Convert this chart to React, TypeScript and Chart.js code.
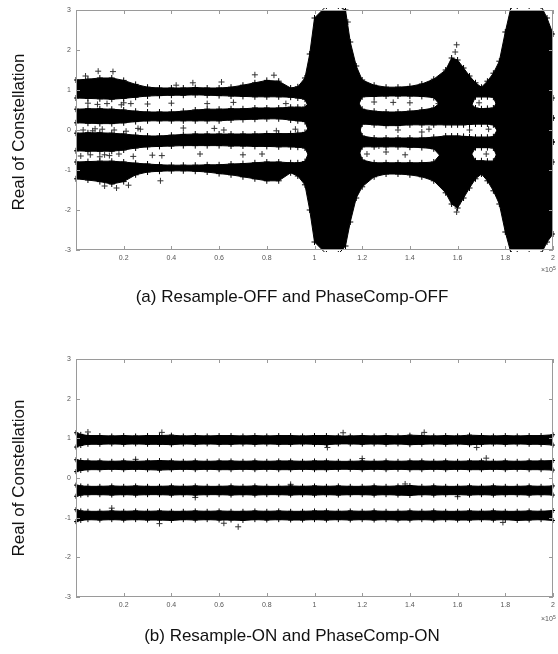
import React, { useEffect, useRef } from 'react';
import { Chart, registerables } from 'chart.js';

Chart.register(...registerables);
if (typeof document !== 'undefined') document.body.style.margin = '0';

// ---------- axes ----------
const X_TICKS = [0.2, 0.4, 0.6, 0.8, 1, 1.2, 1.4, 1.6, 1.8, 2];
const Y_TICKS = [-3, -2, -1, 0, 1, 2, 3];
const X_MIN = 0;
const X_MAX = 2;
const Y_MIN = -3;
const Y_MAX = 3;

// ---------- (a) Resample-OFF and PhaseComp-OFF : band envelopes (sample index x1e5) ----------
const A_X = [0, 0.05, 0.1, 0.15, 0.2, 0.25, 0.3, 0.35, 0.4, 0.45, 0.5, 0.55, 0.6, 0.65, 0.7, 0.75, 0.8, 0.85, 0.9, 0.93, 0.96, 0.98, 1.0, 1.05, 1.1, 1.13, 1.15, 1.175, 1.2, 1.25, 1.3, 1.35, 1.4, 1.45, 1.5, 1.55, 1.575, 1.6, 1.625, 1.65, 1.675, 1.7, 1.725, 1.75, 1.775, 1.8, 1.825, 1.85, 1.9, 1.95, 1.975, 2.0];
const A_B1_UP = [1.25, 1.27, 1.3, 1.3, 1.24, 1.14, 1.07, 1.05, 1.05, 1.05, 1.06, 1.05, 1.05, 1.07, 1.12, 1.18, 1.24, 1.22, 1.05, 1.08, 1.3, 1.9, 2.8, 3.1, 3.1, 3.0, 2.2, 1.6, 1.25, 1.12, 1.07, 1.07, 1.09, 1.15, 1.27, 1.5, 1.8, 1.75, 1.55, 1.35, 1.18, 1.07, 1.22, 1.42, 1.72, 2.45, 3.1, 3.1, 3.1, 3.1, 2.8, 2.4];
const A_B1_LO = [0.8, 0.79, 0.78, 0.77, 0.79, 0.82, 0.85, 0.86, 0.87, 0.87, 0.88, 0.87, 0.86, 0.85, 0.84, 0.83, 0.83, 0.83, 0.82, 0.8, 0.77, 0.5, 0.3, 0.3, 0.3, 0.3, 0.3, 0.5, 0.83, 0.84, 0.85, 0.85, 0.85, 0.84, 0.81, 0.45, 0.4, 0.4, 0.4, 0.5, 0.83, 0.83, 0.83, 0.82, 0.45, 0.3, 0.3, 0.3, 0.3, 0.3, 0.3, 0.3];
const A_B2_UP = [0.52, 0.53, 0.53, 0.52, 0.5, 0.47, 0.45, 0.45, 0.45, 0.47, 0.5, 0.52, 0.52, 0.53, 0.53, 0.55, 0.55, 0.55, 0.57, 0.57, 0.57, 0.7, 0.8, 0.8, 0.8, 0.8, 0.8, 0.8, 0.52, 0.47, 0.45, 0.45, 0.47, 0.5, 0.55, 0.8, 0.8, 0.8, 0.8, 0.7, 0.55, 0.53, 0.54, 0.55, 0.8, 0.8, 0.8, 0.8, 0.8, 0.8, 0.8, 0.8];
const A_B2_LO = [0.18, 0.17, 0.16, 0.16, 0.18, 0.21, 0.23, 0.23, 0.23, 0.23, 0.23, 0.23, 0.23, 0.25, 0.26, 0.27, 0.28, 0.28, 0.25, 0.23, 0.21, -0.1, -0.3, -0.3, -0.3, -0.3, -0.3, -0.3, 0.15, 0.13, 0.11, 0.11, 0.13, 0.13, 0.13, 0.13, 0.13, 0.13, 0.13, 0.14, 0.15, 0.15, 0.15, 0.13, -0.1, -0.3, -0.3, -0.3, -0.3, -0.3, -0.3, -0.3];
const A_B3_UP = [-0.08, -0.07, -0.07, -0.08, -0.1, -0.13, -0.15, -0.15, -0.13, -0.11, -0.1, -0.1, -0.1, -0.1, -0.1, -0.1, -0.09, -0.09, -0.09, -0.08, -0.06, 0.1, 0.3, 0.3, 0.3, 0.3, 0.3, 0.3, -0.15, -0.2, -0.2, -0.2, -0.2, -0.2, -0.18, -0.15, -0.15, -0.15, -0.16, -0.17, -0.18, -0.18, -0.18, -0.17, 0.1, 0.3, 0.3, 0.3, 0.3, 0.3, 0.3, 0.3];
const A_B3_LO = [-0.52, -0.53, -0.53, -0.53, -0.5, -0.45, -0.42, -0.41, -0.4, -0.39, -0.39, -0.39, -0.39, -0.4, -0.4, -0.41, -0.41, -0.42, -0.42, -0.43, -0.45, -0.7, -0.8, -0.8, -0.8, -0.8, -0.8, -0.8, -0.42, -0.42, -0.42, -0.42, -0.43, -0.44, -0.47, -0.8, -0.8, -0.8, -0.8, -0.7, -0.44, -0.44, -0.44, -0.45, -0.8, -0.8, -0.8, -0.8, -0.8, -0.8, -0.8, -0.8];
const A_B4_UP = [-0.8, -0.79, -0.78, -0.78, -0.8, -0.83, -0.85, -0.87, -0.88, -0.88, -0.88, -0.87, -0.87, -0.85, -0.84, -0.82, -0.8, -0.8, -0.82, -0.82, -0.79, -0.5, -0.3, -0.3, -0.3, -0.3, -0.3, -0.3, -0.75, -0.82, -0.82, -0.82, -0.82, -0.82, -0.8, -0.45, -0.4, -0.4, -0.4, -0.5, -0.77, -0.77, -0.78, -0.78, -0.45, -0.3, -0.3, -0.3, -0.3, -0.3, -0.3, -0.3];
const A_B4_LO = [-1.22, -1.25, -1.29, -1.35, -1.29, -1.12, -1.05, -1.03, -1.02, -1.02, -1.03, -1.05, -1.09, -1.12, -1.17, -1.22, -1.27, -1.27, -1.07, -1.15, -1.37, -2.0, -2.8, -3.1, -3.1, -2.9, -2.3, -1.7, -1.42, -1.17, -1.1, -1.1, -1.12, -1.17, -1.27, -1.57, -1.85, -1.95, -1.7, -1.45, -1.22, -1.1, -1.27, -1.52, -1.85, -2.55, -3.1, -3.1, -3.1, -3.1, -2.8, -2.6];
const A_OUT_X = [0.04, 0.093, 0.155, 0.12, 0.17, 0.22, 0.354, 0.42, 0.49, 0.61, 0.75, 0.83, 0.3, 0.55, 0.45, 0.62, 0.52, 0.7, 0.08, 0.2, 0.36, 0.66, 0.84, 0.12, 0.27, 1.14, 1.12, 1.25, 1.27, 1.3, 1.35, 1.4, 1.45, 1.22, 1.33, 1.48, 1.59, 1.596, 1.596, 1.6, 1.65, 1.72, 1.69,
  0.02, 0.06, 0.1, 0.14, 0.18, 0.24, 0.03, 0.07, 0.11, 0.16, 0.21, 0.26, 0.05, 0.09, 0.13, 0.19, 0.23, 0.32, 0.4, 0.58, 0.78, 0.88, 0.92, 1.38, 1.52, 1.73];
const A_OUT_Y = [1.35, 1.47, 1.46, -1.4, -1.45, -1.38, -1.27, 1.12, 1.18, 1.2, 1.38, 1.37, 0.65, 0.66, 0.05, 0.0, -0.6, -0.62, 0.03, 0.68, -0.64, 0.69, -0.02, -0.62, 0.02, 2.7, -2.9, 0.7, -0.4, -0.55, 0.0, 0.68, -0.05, -0.6, 0.69, 0.02, 1.95, 2.13, -2.05, -1.85, 0.0, -0.6, 0.68,
  -0.65, -0.62, -0.67, -0.64, -0.6, -0.66, 0.0, -0.02, 0.02, 0.0, -0.03, 0.04, 0.67, 0.64, 0.66, 0.63, 0.66, -0.63, 0.67, 0.04, -0.6, 0.66, 0.02, -0.62, 0.66, 0.02];

// ---------- (b) Resample-ON and PhaseComp-ON ----------
const B_X = [0, 0.02, 0.05, 0.1, 0.15, 0.2, 0.25, 0.3, 0.35, 0.4, 0.45, 0.5, 0.55, 0.6, 0.65, 0.7, 0.75, 0.8, 0.85, 0.9, 0.95, 1.0, 1.05, 1.1, 1.15, 1.2, 1.25, 1.3, 1.35, 1.4, 1.45, 1.5, 1.55, 1.6, 1.65, 1.7, 1.75, 1.8, 1.85, 1.9, 1.95, 2.0];
const B_B1_UP = [1.14, 1.1, 1.07, 1.07, 1.06, 1.07, 1.06, 1.07, 1.07, 1.08, 1.06, 1.07, 1.06, 1.07, 1.07, 1.06, 1.07, 1.06, 1.07, 1.07, 1.06, 1.07, 1.07, 1.06, 1.06, 1.07, 1.06, 1.07, 1.06, 1.08, 1.07, 1.06, 1.07, 1.06, 1.08, 1.07, 1.06, 1.07, 1.06, 1.07, 1.07, 1.09];
const B_B1_LO = [0.78, 0.82, 0.85, 0.85, 0.86, 0.85, 0.86, 0.85, 0.85, 0.84, 0.86, 0.85, 0.86, 0.85, 0.85, 0.86, 0.85, 0.86, 0.85, 0.85, 0.86, 0.85, 0.84, 0.86, 0.86, 0.85, 0.86, 0.85, 0.86, 0.84, 0.85, 0.86, 0.85, 0.86, 0.84, 0.85, 0.86, 0.85, 0.86, 0.85, 0.85, 0.83];
const B_B2_UP = [0.46, 0.44, 0.43, 0.43, 0.42, 0.43, 0.42, 0.43, 0.44, 0.43, 0.42, 0.43, 0.42, 0.43, 0.43, 0.42, 0.43, 0.42, 0.43, 0.43, 0.42, 0.43, 0.43, 0.42, 0.42, 0.43, 0.42, 0.43, 0.42, 0.43, 0.43, 0.42, 0.43, 0.42, 0.43, 0.43, 0.42, 0.43, 0.42, 0.43, 0.43, 0.44];
const B_B2_LO = [0.16, 0.19, 0.21, 0.21, 0.22, 0.21, 0.22, 0.21, 0.2, 0.21, 0.22, 0.21, 0.22, 0.21, 0.21, 0.22, 0.21, 0.22, 0.21, 0.21, 0.22, 0.21, 0.21, 0.22, 0.22, 0.21, 0.22, 0.21, 0.22, 0.21, 0.21, 0.22, 0.21, 0.22, 0.21, 0.21, 0.22, 0.21, 0.22, 0.21, 0.21, 0.2];
const B_B3_UP = [-0.18, -0.2, -0.21, -0.21, -0.2, -0.21, -0.2, -0.21, -0.21, -0.2, -0.21, -0.2, -0.21, -0.21, -0.2, -0.21, -0.2, -0.21, -0.21, -0.2, -0.21, -0.2, -0.21, -0.2, -0.21, -0.21, -0.2, -0.21, -0.2, -0.19, -0.21, -0.2, -0.21, -0.21, -0.2, -0.21, -0.2, -0.21, -0.21, -0.2, -0.21, -0.2];
const B_B3_LO = [-0.46, -0.43, -0.42, -0.42, -0.43, -0.42, -0.43, -0.42, -0.42, -0.43, -0.42, -0.43, -0.42, -0.42, -0.43, -0.42, -0.43, -0.42, -0.42, -0.43, -0.42, -0.43, -0.42, -0.43, -0.42, -0.42, -0.43, -0.42, -0.43, -0.44, -0.42, -0.43, -0.42, -0.42, -0.43, -0.42, -0.43, -0.42, -0.42, -0.43, -0.42, -0.43];
const B_B4_UP = [-0.8, -0.83, -0.84, -0.84, -0.83, -0.84, -0.83, -0.84, -0.83, -0.84, -0.84, -0.83, -0.84, -0.83, -0.84, -0.84, -0.83, -0.84, -0.83, -0.84, -0.84, -0.83, -0.83, -0.84, -0.83, -0.84, -0.83, -0.84, -0.84, -0.83, -0.84, -0.83, -0.84, -0.84, -0.83, -0.84, -0.83, -0.84, -0.84, -0.83, -0.84, -0.82];
const B_B4_LO = [-1.1, -1.07, -1.05, -1.06, -1.05, -1.06, -1.05, -1.06, -1.06, -1.07, -1.05, -1.06, -1.05, -1.06, -1.06, -1.07, -1.05, -1.06, -1.05, -1.06, -1.06, -1.05, -1.06, -1.05, -1.06, -1.05, -1.06, -1.05, -1.06, -1.06, -1.05, -1.06, -1.05, -1.06, -1.06, -1.05, -1.06, -1.05, -1.07, -1.06, -1.05, -1.07];
const B_OUT_X = [0.35, 0.36, 0.68, 0.25, 0.9, 1.054, 1.46, 1.68, 1.79, 1.2, 0.5, 1.6, 0.05, 0.62, 1.12, 1.38, 1.72, 0.15];
const B_OUT_Y = [-1.15, 1.15, -1.23, 0.47, -0.16, 0.77, 1.15, 0.77, -1.12, 0.49, -0.49, -0.47, 1.16, -1.14, 1.14, -0.15, 0.5, -0.76];

const TICK_COLOR = '#555';
const BOX_COLOR = '#9a9a9a';
const FONT = "'Liberation Sans', Arial, sans-serif";

function bandDatasets(xs: number[], bands: [number[], number[]][], r: number) {
  const out: any[] = [];
  bands.forEach(([lo, up]) => {
    const base = {
      type: 'line',
      borderColor: '#000',
      borderWidth: 1,
      backgroundColor: '#000',
      pointStyle: 'cross',
      pointRadius: r,
      pointBorderColor: '#000',
      pointBorderWidth: 1,
      pointBackgroundColor: '#000',
      tension: 0,
      clip: 2,
    };
    out.push({ ...base, data: xs.map((x, i) => ({ x, y: lo[i] })), fill: false });
    out.push({ ...base, data: xs.map((x, i) => ({ x, y: up[i] })), fill: '-1' });
  });
  return out;
}

function outlierDataset(xs: number[], ys: number[]) {
  return {
    type: 'line',
    showLine: false,
    data: xs.map((x, i) => ({ x, y: ys[i] })),
    pointStyle: 'cross',
    pointRadius: 3,
    pointBorderColor: '#333',
    pointBorderWidth: 1,
    fill: false,
    clip: 2,
  };
}

const boxPlugin = {
  id: 'matlabBox',
  afterDraw(chart: any) {
    const { ctx, chartArea: a, scales } = chart;
    ctx.save();
    ctx.strokeStyle = BOX_COLOR;
    ctx.lineWidth = 1;
    ctx.strokeRect(Math.round(a.left) + 0.5, Math.round(a.top) + 0.5, Math.round(a.right - a.left) - 1, Math.round(a.bottom - a.top) - 1);
    ctx.beginPath();
    const tl = 4;
    for (const t of scales.x.ticks) {
      const px = Math.round(scales.x.getPixelForValue(t.value)) + 0.5;
      ctx.moveTo(px, a.bottom);
      ctx.lineTo(px, a.bottom - tl);
      ctx.moveTo(px, a.top);
      ctx.lineTo(px, a.top + tl);
    }
    for (const t of scales.y.ticks) {
      const py = Math.round(scales.y.getPixelForValue(t.value)) + 0.5;
      ctx.moveTo(a.left, py);
      ctx.lineTo(a.left + tl, py);
      ctx.moveTo(a.right, py);
      ctx.lineTo(a.right - tl, py);
    }
    ctx.stroke();
    ctx.restore();
  },
};

function zeroPad(s: any) {
  s.paddingLeft = 0;
  s.paddingRight = 0;
  s.paddingTop = 0;
  s.paddingBottom = 0;
}

function Panel(props: { top: number; height: number; topAxis: number; bottomAxis: number; datasets: any[] }) {
  const ref = useRef<HTMLCanvasElement | null>(null);
  useEffect(() => {
    if (!ref.current) return;
    const tickFont = { size: 7, family: FONT };
    const chart = new Chart(ref.current, {
      type: 'line',
      data: { datasets: props.datasets },
      plugins: [boxPlugin],
      options: {
        animation: false,
        responsive: false,
        devicePixelRatio: 1,
        events: [],
        layout: { padding: 0 },
        plugins: { legend: { display: false }, tooltip: { enabled: false } },
        scales: {
          x: {
            type: 'linear',
            position: 'bottom',
            min: X_MIN,
            max: X_MAX,
            afterBuildTicks: (s: any) => { s.ticks = X_TICKS.map((v) => ({ value: v })); },
            afterFit: (s: any) => { s.height = props.bottomAxis; zeroPad(s); },
            grid: { display: false, drawTicks: false },
            border: { display: false },
            ticks: { font: tickFont, color: TICK_COLOR, padding: 4, maxRotation: 0, autoSkip: false, callback: (v: any) => String(v) },
          },
          xTop: {
            type: 'linear',
            position: 'top',
            min: X_MIN,
            max: X_MAX,
            afterFit: (s: any) => { s.height = props.topAxis; zeroPad(s); },
            grid: { display: false, drawTicks: false },
            border: { display: false },
            ticks: { display: false },
          },
          y: {
            type: 'linear',
            position: 'left',
            min: Y_MIN,
            max: Y_MAX,
            afterBuildTicks: (s: any) => { s.ticks = Y_TICKS.map((v) => ({ value: v })); },
            afterFit: (s: any) => { s.width = 76; zeroPad(s); },
            grid: { display: false, drawTicks: false },
            border: { display: false },
            ticks: { font: tickFont, color: TICK_COLOR, padding: 5, autoSkip: false, callback: (v: any) => String(v) },
          },
          yRight: {
            type: 'linear',
            position: 'right',
            min: Y_MIN,
            max: Y_MAX,
            afterFit: (s: any) => { s.width = 2; zeroPad(s); },
            grid: { display: false, drawTicks: false },
            border: { display: false },
            ticks: { display: false },
          },
        },
      } as any,
    });
    return () => chart.destroy();
  }, []);
  return (
    <canvas
      ref={ref}
      width={558}
      height={props.height}
      style={{ position: 'absolute', left: 0, top: props.top, width: 558, height: props.height }}
    />
  );
}

function Exp10(props: { top: number }) {
  return (
    <div style={{ position: 'absolute', left: 541, top: props.top, fontFamily: FONT, fontSize: 7, color: TICK_COLOR, lineHeight: '8px', whiteSpace: 'nowrap' }}>
      ×10<sup style={{ fontSize: 5, verticalAlign: 'top', position: 'relative', top: -2 }}>5</sup>
    </div>
  );
}

function YLabel(props: { cy: number }) {
  return (
    <div style={{ position: 'absolute', left: 19, top: props.cy, transform: 'translate(-50%, -50%) rotate(-90deg)', fontFamily: FONT, fontSize: 17, color: '#111', whiteSpace: 'nowrap', lineHeight: '20px' }}>
      Real of Constellation
    </div>
  );
}

function Caption(props: { cy: number; text: string }) {
  return (
    <div style={{ position: 'absolute', left: 292, top: props.cy, transform: 'translate(-50%, -50%)', fontFamily: FONT, fontSize: 17, color: '#111', whiteSpace: 'nowrap', lineHeight: '20px' }}>
      {props.text}
    </div>
  );
}

export default function App() {
  const dsA = [
    ...bandDatasets(A_X, [[A_B1_LO, A_B1_UP], [A_B2_LO, A_B2_UP], [A_B3_LO, A_B3_UP], [A_B4_LO, A_B4_UP]], 3),
    outlierDataset(A_OUT_X, A_OUT_Y),
  ];
  const dsB = [
    ...bandDatasets(B_X, [[B_B1_LO, B_B1_UP], [B_B2_LO, B_B2_UP], [B_B3_LO, B_B3_UP], [B_B4_LO, B_B4_UP]], 2.5),
    outlierDataset(B_OUT_X, B_OUT_Y),
  ];
  return (
    <div style={{ position: 'relative', width: 558, height: 654, background: '#fff', overflow: 'hidden' }}>
      <Panel top={0} height={290} topAxis={10} bottomAxis={40} datasets={dsA} />
      <Panel top={340} height={290} topAxis={19} bottomAxis={33} datasets={dsB} />
      <Exp10 top={266} />
      <Exp10 top={615} />
      <YLabel cy={132} />
      <YLabel cy={478} />
      <Caption cy={297} text="(a) Resample-OFF and PhaseComp-OFF" />
      <Caption cy={636} text="(b) Resample-ON and PhaseComp-ON" />
    </div>
  );
}
